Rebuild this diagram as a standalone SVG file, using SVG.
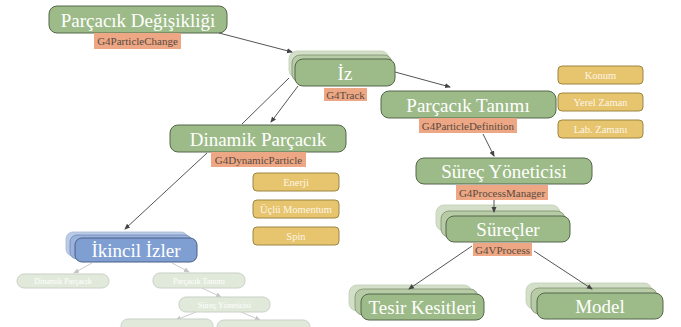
<svg xmlns="http://www.w3.org/2000/svg" width="681" height="327" viewBox="0 0 681 327">
<defs>
<marker id="ah" markerWidth="6" markerHeight="6" refX="5" refY="3" orient="auto" markerUnits="userSpaceOnUse">
<path d="M0,0.5 L6,3 L0,5.5 z" fill="#444"/>
</marker>
<style>
.g{fill:#9dbb88;stroke:#55664a;stroke-width:1}
.g2{fill:#b7cba6;stroke:#7f9170;stroke-width:0.8}
.g3{fill:#d3dfc8;stroke:#c2cfb6;stroke-width:0.8}
.b{fill:#7f9fd3;stroke:#4b5f86;stroke-width:1}
.b2{fill:#9bb3dc;stroke:#7089b4;stroke-width:0.8}
.b3{fill:#bacbe8;stroke:#a7b8d6;stroke-width:0.8}
.y{fill:#e7c46e;stroke:#9c8641;stroke-width:1}
.o{fill:#eda784}
text{font-family:'Liberation Serif','DejaVu Serif',serif}
.t{fill:#fff;text-anchor:middle}
.big{font-size:19px}
.lab{fill:#5a4a40;font-size:11px;text-anchor:middle}
.sm{font-size:10.5px;fill:#fdf6e6}
.c{stroke:#555;stroke-width:1;fill:none}
.f{fill:#9dbb88;stroke:#55664a;stroke-width:1}
</style>
</defs>
<g id="degisiklik">
<rect class="g" x="49" y="6" width="178" height="27" rx="8"/>
<text class="t big" x="138" y="26.5">Parçacık Değişikliği</text>
<rect class="o" x="94" y="33" width="87" height="16"/>
<text class="lab" x="137.5" y="45">G4ParticleChange</text>
</g>
<g id="iz">
<rect class="g3" x="289" y="51" width="100" height="27" rx="8"/>
<rect class="g2" x="292" y="55" width="100" height="27" rx="8"/>
<rect class="g" x="295" y="59" width="100" height="27" rx="8"/>
<text class="t big" x="345" y="79.5">İz</text>
<rect class="o" x="324" y="88" width="43" height="13"/>
<text class="lab" x="345.5" y="98.5">G4Track</text>
</g>
<g id="tanim">
<rect class="g" x="381" y="91" width="175" height="27" rx="8"/>
<text class="t big" x="468" y="111.5">Parçacık Tanımı</text>
<rect class="o" x="419" y="118" width="98" height="15"/>
<text class="lab" x="468" y="129.5">G4ParticleDefinition</text>
</g>
<g id="konum"><rect class="y" x="558" y="66" width="85" height="18" rx="4"/><text class="t sm" x="600.5" y="78.5">Konum</text></g>
<g id="yerel"><rect class="y" x="558" y="93" width="85" height="18" rx="4"/><text class="t sm" x="600.5" y="105.5">Yerel Zaman</text></g>
<g id="lab"><rect class="y" x="558" y="120" width="85" height="18" rx="4"/><text class="t sm" x="600.5" y="132.5">Lab. Zamanı</text></g>
<g id="dinamik">
<rect class="g" x="170" y="125" width="176" height="27" rx="8"/>
<text class="t big" x="258" y="145.5">Dinamik Parçacık</text>
<rect class="o" x="211" y="152" width="95" height="15"/>
<text class="lab" x="258.5" y="163.5">G4DynamicParticle</text>
</g>
<g id="enerji"><rect class="y" x="253" y="173" width="86" height="18" rx="4"/><text class="t sm" x="296" y="185.5">Enerji</text></g>
<g id="momentum"><rect class="y" x="253" y="200" width="86" height="18" rx="4"/><text class="t sm" x="296" y="212.5">Üçlü Momentum</text></g>
<g id="spin"><rect class="y" x="253" y="227" width="86" height="18" rx="4"/><text class="t sm" x="296" y="239.5">Spin</text></g>
<g id="yonetici">
<rect class="g" x="416" y="158" width="176" height="26" rx="8"/>
<text class="t big" x="504" y="177.5">Süreç Yöneticisi</text>
<rect class="o" x="456" y="185" width="92" height="15"/>
<text class="lab" x="502" y="196.5">G4ProcessManager</text>
</g>
<g id="surecler">
<rect class="g3" x="436" y="205" width="124" height="26" rx="8"/>
<rect class="g2" x="441" y="211" width="124" height="26" rx="8"/>
<rect class="g" x="446" y="216" width="124" height="26" rx="8"/>
<text class="t big" x="508" y="235.5">Süreçler</text>
<rect class="o" x="473" y="243" width="59" height="13"/>
<text class="lab" x="502.5" y="253.5">G4VProcess</text>
</g>
<g id="tesir">
<rect class="g3" x="349" y="285" width="123" height="26" rx="8"/>
<rect class="g2" x="355" y="289" width="123" height="26" rx="8"/>
<rect class="g" x="361" y="294" width="123" height="26" rx="8"/>
<text class="t big" x="422.5" y="313.5">Tesir Kesitleri</text>
</g>
<g id="model">
<rect class="g3" x="526" y="283" width="126" height="26" rx="8"/>
<rect class="g2" x="531" y="288" width="126" height="26" rx="8"/>
<rect class="g" x="537" y="293" width="126" height="26" rx="8"/>
<text class="t big" x="600" y="312.5">Model</text>
</g>
<g id="ikincil">
<rect class="b3" x="66" y="232" width="122" height="24" rx="7"/>
<rect class="b2" x="70" y="235" width="122" height="24" rx="7"/>
<rect class="b" x="75" y="238" width="122" height="24" rx="7"/>
<text class="t big" x="136" y="256.5">İkincil İzler</text>
</g>
<g id="faded" opacity="0.3">
<line class="c" x1="92" y1="263" x2="74" y2="273" marker-end="url(#ah)"/>
<line class="c" x1="172" y1="263" x2="189" y2="272" marker-end="url(#ah)"/>
<line class="c" x1="202" y1="288" x2="221" y2="297" marker-end="url(#ah)"/>
<line class="c" x1="196" y1="312" x2="176" y2="320" marker-end="url(#ah)"/>
<line class="c" x1="241" y1="312" x2="260" y2="320" marker-end="url(#ah)"/>
<rect class="f" x="17" y="274" width="92" height="14" rx="7"/>
<text class="t" font-size="8" x="63" y="284">Dinamik Parçacık</text>
<rect class="f" x="153" y="273" width="92" height="15" rx="7"/>
<text class="t" font-size="8" x="199" y="283.5">Parçacık Tanımı</text>
<rect class="f" x="179" y="297" width="91" height="15" rx="7"/>
<text class="t" font-size="8" x="224.5" y="307.5">Süreç Yöneticisi</text>
<rect class="f" x="121" y="319" width="92" height="15" rx="7"/>
<rect class="f" x="217" y="320" width="93" height="15" rx="7"/>
</g>
<g id="connectors">
<line class="c" x1="219" y1="33" x2="292" y2="52" marker-end="url(#ah)"/>
<line class="c" x1="395" y1="72" x2="450" y2="87" marker-end="url(#ah)"/>
<path class="c" d="M289,78 L242,124 M207,153 L125,229" marker-end="url(#ah)"/>
<line class="c" x1="298" y1="86" x2="271" y2="122" marker-end="url(#ah)"/>
<line class="c" x1="483" y1="134" x2="494" y2="156" marker-end="url(#ah)"/>
<line class="c" x1="494" y1="200" x2="494" y2="212" marker-end="url(#ah)"/>
<line class="c" x1="472" y1="246" x2="409" y2="289" marker-end="url(#ah)"/>
<line class="c" x1="534" y1="251" x2="592" y2="289" marker-end="url(#ah)"/>
</g>
</svg>
